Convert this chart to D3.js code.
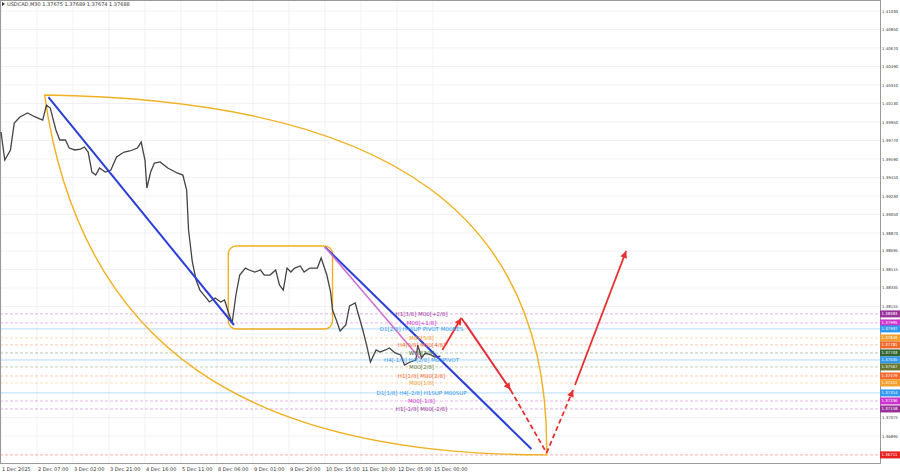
<!DOCTYPE html>
<html><head><meta charset="utf-8">
<script src="https://cdn.jsdelivr.net/npm/d3@7"></script>
<style>body{margin:0;background:#fff}svg{display:block;font-family:"DejaVu Sans",sans-serif}</style>
</head><body>
<script>
// price path, bar index (H1) and price
var priceBars = [0,2,5,7,10,14,18,22,24,26,29,31,34,36,39,42,44,46,48,50,52,55,58,61,65,68,72,74,76,77,79,81,84,88,90,93,96,98,99,101,103,105,108,110,113,116,118,120,122,124,126,129,131,134,137,139,142,145,147,149,151,153,155,158,160,163,167,169,172,174,175,177,179,182,184,187,188,191,193,195,198,200,203,205,208,211,213,216,219,220,222,224,227,229,232];
var priceVals = [1.39853,1.39580,1.39678,1.39940,1.39999,1.40038,1.39999,1.39969,1.40115,1.40086,1.39872,1.39775,1.39775,1.39697,1.39678,1.39687,1.39707,1.39658,1.39463,1.39434,1.39502,1.39463,1.39483,1.39609,1.39658,1.39668,1.39697,1.39755,1.39580,1.39308,1.39463,1.39551,1.39561,1.39502,1.39483,1.39454,1.39434,1.39288,1.38899,1.38588,1.38413,1.38315,1.38247,1.38199,1.38237,1.38199,1.38218,1.38101,1.37994,1.38267,1.38461,1.38529,1.38510,1.38490,1.38510,1.38461,1.38461,1.38510,1.38364,1.38315,1.38529,1.38490,1.38529,1.38549,1.38490,1.38529,1.38529,1.38627,1.38461,1.38296,1.38121,1.38024,1.37916,1.37975,1.38160,1.38189,1.38121,1.37926,1.37780,1.37615,1.37732,1.37712,1.37732,1.37751,1.37703,1.37683,1.37585,1.37615,1.37634,1.37780,1.37654,1.37703,1.37683,1.37663,1.37673];

var levelVals = [1.38083,1.37995,1.37937,1.37849,1.37781,1.37703,1.37635,1.37567,1.37479,1.37411,1.37314,1.37236,1.37158,1.36711];
var levelColors = ["#993399","#cc33cc","#3399ee","#f0a030","#f06a30","#336633","#3399ee","#667733","#f06a30","#f0a030","#3399ee","#cc33cc","#993399","#e82020"];
var levelNames = ["H1[3/8] M00[+2/8]","M00[+1/8]","D1[2/8] H4SUP PIVOT M00RES","M00[5/8]","H4[3/8] M00[4/8]","W00[3/8]","H4[-1/8] H4[2/8] M00PIVOT","M00[2/8]","H1[1/8] M00[2/8]","M00[1/8]","D1[1/8] H4[-2/8] H1SUP M00SUP","M00[-1/8]","H1[-1/8] M00[-2/8]",""];

var yTicks = [1.41030,1.40850,1.40670,1.40490,1.40310,1.40130,1.39950,1.39770,1.39590,1.39410,1.39230,1.39050,1.38870,1.38695,1.38515,1.38335,1.38155,1.37075,1.36895];
var xTickBars = [0,19,38,57,76,95,114,133,152,171,190,209,228];
var xTickLabels = ["1 Dec 2025","2 Dec 07:00","3 Dec 02:00","3 Dec 21:00","4 Dec 16:00","5 Dec 11:00","8 Dec 06:00","9 Dec 01:00","9 Dec 20:00","10 Dec 15:00","11 Dec 10:00","12 Dec 05:00","15 Dec 00:00"];

// trend lines [bar1, price1, bar2, price2]
var blueLines = [[25,1.40193,123,1.37975],[171,1.38734,280,1.36769]];
var pinkLines = [[171,1.38734,221,1.37654],[245,1.38000,269,1.37343]];
var redSolid = [[233,1.37732,243,1.38043],[243,1.38043,269,1.37343],[303,1.37391,330,1.38695]];
var redDashed = [[269,1.37343,288,1.36730],[288,1.36730,302,1.37343]];
// arc: start, end, top controls, bottom controls
var arcStart = [23,1.40213], arcEnd = [288,1.36711];
var arcTop = [[210,1.40164],[290,1.38997]];
var arcBottom = [[131,1.36710],[42,1.37731]];
var boxBars = [120,175], boxPrices = [1.38744,1.37936];

var W = 900, H = 474, right = 880, bottom = 463;
var x = d3.scaleLinear().domain([0,464]).range([1,right]);
var y = d3.scaleLinear().domain([1.41030,1.36895]).range([11,436]);
var svg = d3.select("body").append("svg").attr("width",W).attr("height",H);
var pt = p => x(p[0])+","+y(p[1]);

// grid
svg.selectAll(".hg").data(yTicks).enter().append("line")
  .attr("x1",0).attr("x2",right).attr("y1",d=>y(d)).attr("y2",d=>y(d))
  .attr("stroke","#eceaf0").attr("stroke-width",0.7);
svg.selectAll(".vg").data(xTickBars).enter().append("line")
  .attr("x1",d=>x(d)).attr("x2",d=>x(d)).attr("y1",0).attr("y2",bottom)
  .attr("stroke","#eceaf0").attr("stroke-width",0.7);

// levels
svg.selectAll(".lv").data(levelVals).enter().append("line")
  .attr("x1",0).attr("x2",right).attr("y1",d=>y(d)).attr("y2",d=>y(d))
  .attr("stroke",(d,i)=>levelColors[i]).attr("stroke-opacity",0.45)
  .attr("stroke-dasharray",(d,i)=>levelColors[i]=="#3399ee"?null:"3,2").attr("stroke-width",0.8);

// frame
svg.append("rect").attr("x",0.5).attr("y",0.5).attr("width",right).attr("height",bottom)
  .attr("fill","none").attr("stroke","#999");

// box and arcs
svg.append("rect").attr("x",x(boxBars[0])).attr("y",y(boxPrices[0]))
  .attr("width",x(boxBars[1])-x(boxBars[0])).attr("height",y(boxPrices[1])-y(boxPrices[0]))
  .attr("rx",8).attr("fill","none").attr("stroke","#f0b020").attr("stroke-width",1.4);
svg.append("path")
  .attr("d","M"+pt(arcStart)+"C"+pt(arcTop[0])+" "+pt(arcTop[1])+" "+pt(arcEnd)
    +"C"+pt(arcBottom[0])+" "+pt(arcBottom[1])+" "+pt(arcStart))
  .attr("fill","none").attr("stroke","#f0b020").attr("stroke-width",1.4);

// price
var line = d3.line().x(d=>x(d[0])).y(d=>y(d[1]));
svg.append("path").datum(priceBars.map((b,i)=>[b,priceVals[i]])).attr("d",line)
  .attr("fill","none").attr("stroke","#444").attr("stroke-width",1.3);

function seg(data,color,w,dash){
  svg.append("g").selectAll("line").data(data).enter().append("line")
    .attr("x1",d=>x(d[0])).attr("y1",d=>y(d[1])).attr("x2",d=>x(d[2])).attr("y2",d=>y(d[3]))
    .attr("stroke",color).attr("stroke-width",w).attr("stroke-dasharray",dash);
}
seg(blueLines,"#2a3fd8",2,null);
seg(pinkLines,"#d070d0",1.6,null);
seg(redSolid,"#e83030",1.8,null);
seg(redDashed,"#e83030",1.8,"5,3");
// arrow heads
svg.append("g").selectAll("path").data([redSolid[0],redSolid[1],redSolid[2],redDashed[1]]).enter().append("path")
  .attr("transform",d=>"translate("+x(d[2])+","+y(d[3])+") rotate("+(Math.atan2(y(d[3])-y(d[1]),x(d[2])-x(d[0]))*180/Math.PI)+")")
  .attr("d","M0,0L-7,-3.5L-7,3.5Z").attr("fill","#e83030");

// level labels
svg.selectAll(".ll").data(levelVals.slice(0,13)).enter().append("text")
  .attr("x",x(222)).attr("y",d=>y(d)+2).attr("text-anchor","middle")
  .attr("font-size",5.5).attr("fill",(d,i)=>levelColors[i]).text((d,i)=>levelNames[i]);

// axes labels
svg.selectAll(".yt").data(yTicks).enter().append("text")
  .attr("x",882).attr("y",d=>y(d)+1.5).attr("font-size",3.9).attr("fill","#333").text(d=>d.toFixed(5));
var tag = svg.selectAll(".tg").data(levelVals).enter().append("g")
  .attr("transform",d=>"translate(880,"+(y(d)-3.5)+")");
tag.append("rect").attr("width",20).attr("height",7).attr("fill",(d,i)=>levelColors[i]);
tag.append("text").attr("x",1.5).attr("y",5).attr("font-size",3.9).attr("fill","#fff").text(d=>d.toFixed(5));
svg.selectAll(".xt").data(xTickBars).enter().append("text")
  .attr("x",d=>x(d)+1).attr("y",471).attr("font-size",5).attr("fill","#333").text((d,i)=>xTickLabels[i]);
svg.append("text").attr("x",7).attr("y",6).attr("font-size",5).attr("fill","#333")
  .text("USDCAD,M30  1.37675 1.37689 1.37674 1.37688");
svg.append("path").attr("d","M2,2L5,4L2,6Z").attr("fill","#333");
</script>
</body></html>
